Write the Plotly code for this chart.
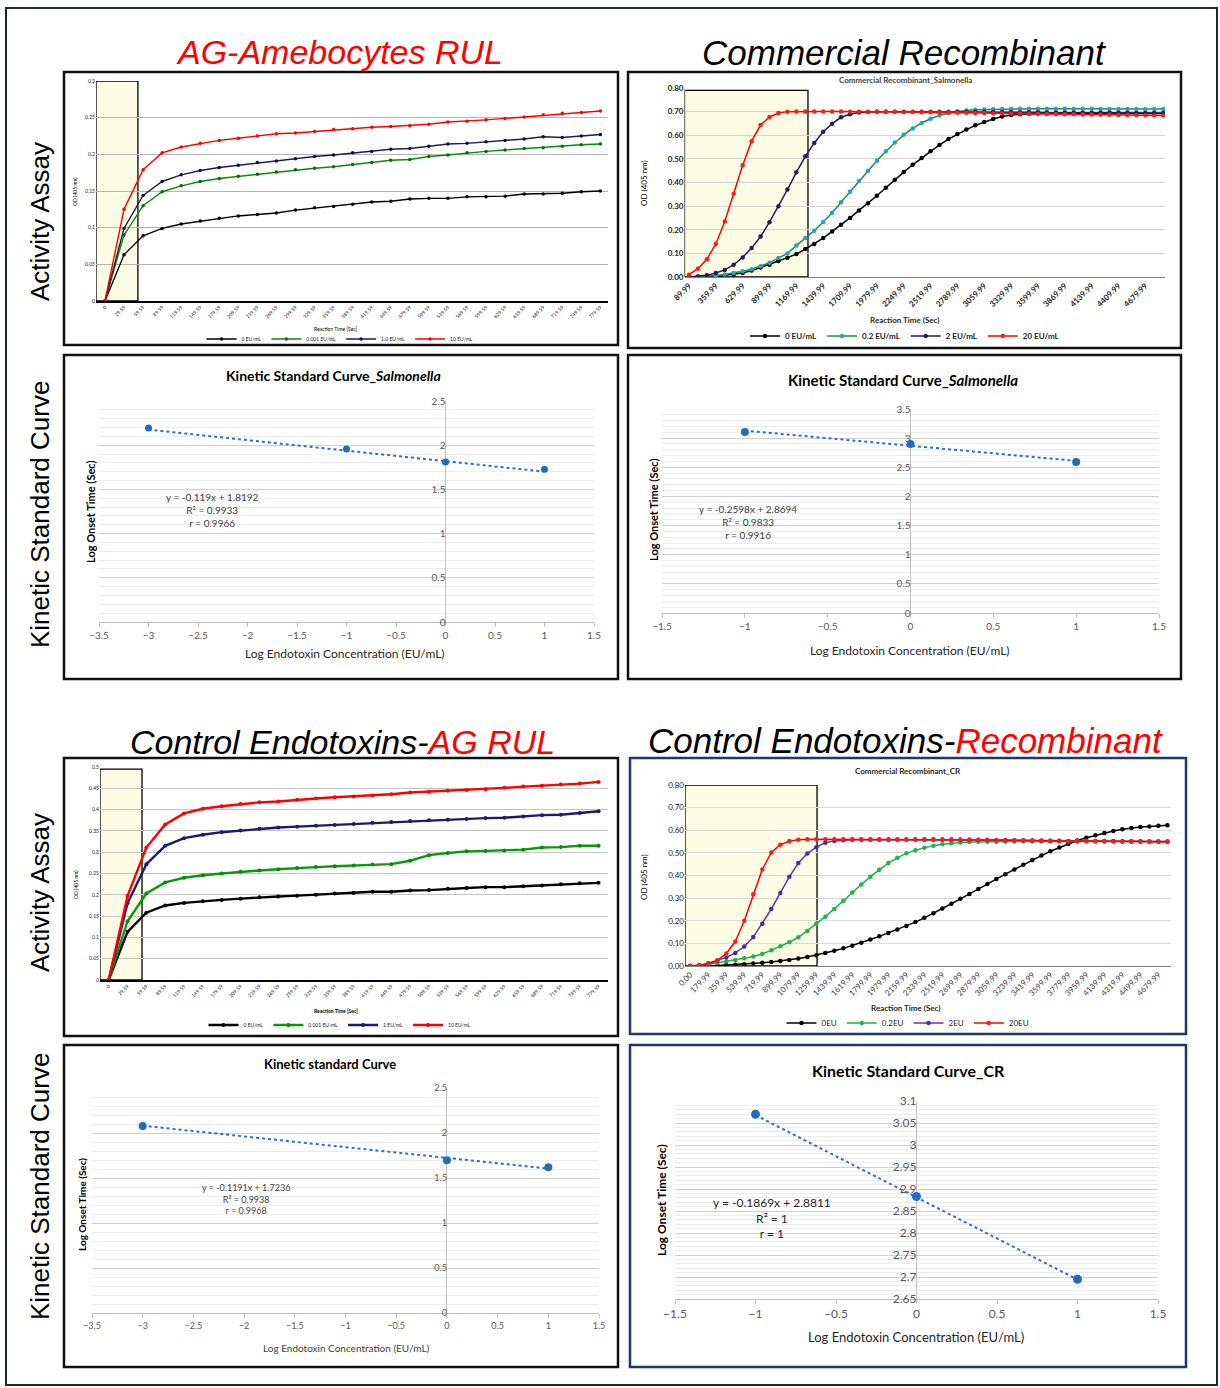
import plotly.graph_objects as go

W, H = 1220, 1388

# ---------------- DATA ----------------
# Top-left: AG-Amebocytes RUL activity assay
TL_TIMES = ["0", "29.59", "59.59", "89.59", "119.59", "149.59", "179.59", "209.59", "239.59",
            "269.59", "299.59", "329.59", "359.59", "389.59", "419.59", "449.59", "479.59",
            "509.59", "539.59", "569.59", "599.59", "629.59", "659.59", "689.59", "719.59",
            "749.59", "779.59"]
TL_NAMES = ["0 EU/mL", "0.001 EU/mL", "1.0 EU/mL", "10 EU/mL"]
TL_BLACK = [0, 0.063, 0.089, 0.099, 0.105, 0.109, 0.113, 0.116, 0.118, 0.120, 0.124, 0.127, 0.129,
            0.132, 0.135, 0.136, 0.139, 0.140, 0.140, 0.142, 0.142, 0.143, 0.146, 0.146, 0.147,
            0.149, 0.150]
TL_GREEN = [0, 0.090, 0.130, 0.149, 0.157, 0.163, 0.167, 0.170, 0.173, 0.176, 0.179, 0.181, 0.183,
            0.186, 0.189, 0.192, 0.193, 0.197, 0.199, 0.202, 0.204, 0.206, 0.208, 0.209, 0.211,
            0.213, 0.214]
TL_NAVY = [0, 0.099, 0.144, 0.163, 0.172, 0.178, 0.182, 0.185, 0.189, 0.191, 0.194, 0.197, 0.199,
           0.202, 0.204, 0.207, 0.208, 0.211, 0.214, 0.215, 0.217, 0.219, 0.221, 0.224, 0.223,
           0.225, 0.227]
TL_RED = [0, 0.125, 0.179, 0.202, 0.210, 0.215, 0.219, 0.222, 0.225, 0.228, 0.229, 0.231, 0.234,
          0.235, 0.237, 0.238, 0.239, 0.241, 0.244, 0.245, 0.247, 0.249, 0.251, 0.254, 0.256,
          0.257, 0.259]

# Top-right: Commercial Recombinant_Salmonella activity assay
TR_TIMES = ["89.99", "179.99", "269.99", "359.99", "449.99", "539.99", "629.99", "719.99", "809.99",
            "899.99", "989.99", "1079.99", "1169.99", "1259.99", "1349.99", "1439.99", "1529.99",
            "1619.99", "1709.99", "1799.99", "1889.99", "1979.99", "2069.99", "2159.99", "2249.99",
            "2339.99", "2429.99", "2519.99", "2609.99", "2699.99", "2789.99", "2879.99", "2969.99",
            "3059.99", "3149.99", "3239.99", "3329.99", "3419.99", "3509.99", "3599.99", "3689.99",
            "3779.99", "3869.99", "3959.99", "4049.99", "4139.99", "4229.99", "4319.99", "4409.99",
            "4499.99", "4589.99", "4679.99", "4769.99", "4859.99"]
TR_NAMES = ["0 EU/mL", "0.2 EU/mL", "2 EU/mL", "20 EU/mL"]
TR_0EU = [0, 0, 0.001, 0.003, 0.007, 0.011, 0.017, 0.027, 0.040, 0.052, 0.068, 0.082, 0.097,
          0.118, 0.140, 0.165, 0.193, 0.221, 0.250, 0.282, 0.312, 0.344, 0.378, 0.412, 0.444,
          0.475, 0.504, 0.532, 0.559, 0.584, 0.605, 0.624, 0.642, 0.656, 0.669, 0.679, 0.686,
          0.689, 0.691, 0.692, 0.692, 0.692, 0.693, 0.693, 0.693, 0.693, 0.693, 0.693, 0.692,
          0.692, 0.692, 0.692, 0.692, 0.692]
TR_02EU = [0, 0.001, 0.003, 0.006, 0.011, 0.017, 0.024, 0.033, 0.045, 0.060, 0.080, 0.100, 0.133,
           0.165, 0.196, 0.233, 0.272, 0.316, 0.361, 0.406, 0.449, 0.492, 0.532, 0.569, 0.602,
           0.629, 0.652, 0.670, 0.684, 0.694, 0.701, 0.705, 0.708, 0.709, 0.710, 0.711, 0.711,
           0.712, 0.712, 0.712, 0.712, 0.712, 0.712, 0.712, 0.712, 0.712, 0.711, 0.711, 0.711,
           0.711, 0.711, 0.711, 0.711, 0.711]
TR_2EU = [0, 0.002, 0.007, 0.017, 0.030, 0.052, 0.083, 0.123, 0.171, 0.232, 0.300, 0.370, 0.443,
          0.511, 0.567, 0.615, 0.649, 0.676, 0.689, 0.696, 0.698, 0.700, 0.700, 0.700, 0.700,
          0.700, 0.700, 0.700, 0.700, 0.700, 0.700, 0.699, 0.699, 0.699, 0.698, 0.698, 0.698,
          0.697, 0.697, 0.697, 0.696, 0.696, 0.696, 0.696, 0.695, 0.695, 0.695, 0.695, 0.695,
          0.695, 0.694, 0.694, 0.694, 0.694]
TR_20EU = [0.010, 0.035, 0.075, 0.140, 0.235, 0.352, 0.473, 0.575, 0.643, 0.677, 0.694, 0.700,
           0.701, 0.701, 0.701, 0.701, 0.701, 0.701, 0.700, 0.700, 0.700, 0.700, 0.699, 0.699,
           0.698, 0.698, 0.697, 0.697, 0.696, 0.696, 0.695, 0.695, 0.694, 0.694, 0.693, 0.693,
           0.692, 0.692, 0.691, 0.691, 0.690, 0.690, 0.689, 0.689, 0.688, 0.688, 0.687, 0.687,
           0.686, 0.686, 0.685, 0.685, 0.684, 0.684]

# Bottom-left: Control Endotoxins - AG RUL activity assay
BL_TIMES = ["0", "29.59", "59.59", "89.59", "119.59", "149.59", "179.59", "209.59", "239.59",
            "269.59", "299.59", "329.59", "359.59", "389.59", "419.59", "449.59", "479.59",
            "509.59", "539.59", "569.59", "599.59", "629.59", "659.59", "689.59", "719.59",
            "749.59", "779.59"]
BL_NAMES = ["0 EU/mL", "0.001 EU/mL", "1 EU/mL", "10 EU/mL"]
BL_BLACK = [0, 0.113, 0.158, 0.175, 0.181, 0.185, 0.188, 0.191, 0.194, 0.196, 0.198, 0.200, 0.203,
            0.204, 0.207, 0.207, 0.210, 0.211, 0.214, 0.216, 0.218, 0.218, 0.220, 0.222, 0.225,
            0.227, 0.228]
BL_GREEN = [0, 0.138, 0.203, 0.229, 0.240, 0.246, 0.250, 0.254, 0.257, 0.260, 0.263, 0.265, 0.267,
            0.269, 0.271, 0.272, 0.280, 0.293, 0.298, 0.302, 0.303, 0.304, 0.306, 0.311, 0.312,
            0.315, 0.315]
BL_NAVY = [0, 0.180, 0.272, 0.315, 0.333, 0.341, 0.347, 0.351, 0.355, 0.358, 0.360, 0.362, 0.364,
           0.366, 0.369, 0.371, 0.373, 0.375, 0.376, 0.378, 0.380, 0.381, 0.384, 0.387, 0.388,
           0.392, 0.396]
BL_RED = [0, 0.197, 0.311, 0.365, 0.391, 0.402, 0.408, 0.413, 0.417, 0.419, 0.423, 0.426, 0.429,
          0.431, 0.433, 0.436, 0.440, 0.442, 0.444, 0.446, 0.448, 0.451, 0.454, 0.456, 0.459,
          0.461, 0.465]

# Bottom-right: Commercial Recombinant_CR activity assay
BR_TIMES = ["0.00", "89.99", "179.99", "269.99", "359.99", "449.99", "539.99", "629.99", "719.99",
            "809.99", "899.99", "989.99", "1079.99", "1169.99", "1259.99", "1349.99", "1439.99",
            "1529.99", "1619.99", "1709.99", "1799.99", "1889.99", "1979.99", "2069.99", "2159.99",
            "2249.99", "2339.99", "2429.99", "2519.99", "2609.99", "2699.99", "2789.99", "2879.99",
            "2969.99", "3059.99", "3149.99", "3239.99", "3329.99", "3419.99", "3509.99", "3599.99",
            "3689.99", "3779.99", "3869.99", "3959.99", "4049.99", "4139.99", "4229.99", "4319.99",
            "4409.99", "4499.99", "4589.99", "4679.99", "4769.99"]
BR_NAMES = ["0EU", "0.2EU", "2EU", "20EU"]
BR_0EU = [0, 0, 0.001, 0.002, 0.004, 0.006, 0.008, 0.011, 0.014, 0.018, 0.022, 0.027, 0.033,
          0.040, 0.048, 0.057, 0.067, 0.078, 0.090, 0.103, 0.117, 0.131, 0.146, 0.161, 0.177,
          0.194, 0.213, 0.233, 0.254, 0.275, 0.297, 0.318, 0.340, 0.362, 0.384, 0.406, 0.427,
          0.448, 0.468, 0.488, 0.507, 0.524, 0.540, 0.555, 0.567, 0.578, 0.588, 0.597, 0.604,
          0.610, 0.614, 0.617, 0.620, 0.622]
BR_02EU = [0, 0.003, 0.008, 0.014, 0.020, 0.027, 0.034, 0.042, 0.053, 0.070, 0.087, 0.105, 0.127,
           0.155, 0.187, 0.218, 0.252, 0.288, 0.325, 0.360, 0.395, 0.425, 0.455, 0.478, 0.498,
           0.512, 0.523, 0.532, 0.538, 0.543, 0.546, 0.548, 0.549, 0.549, 0.549, 0.549, 0.550,
           0.550, 0.550, 0.550, 0.550, 0.550, 0.550, 0.550, 0.550, 0.550, 0.550, 0.550, 0.550,
           0.550, 0.550, 0.550, 0.550, 0.550]
BR_2EU = [0, 0.003, 0.012, 0.024, 0.038, 0.058, 0.086, 0.128, 0.187, 0.252, 0.323, 0.394, 0.455,
          0.497, 0.525, 0.545, 0.553, 0.556, 0.558, 0.558, 0.558, 0.558, 0.558, 0.558, 0.558,
          0.558, 0.558, 0.558, 0.558, 0.557, 0.557, 0.557, 0.557, 0.556, 0.556, 0.556, 0.555,
          0.555, 0.555, 0.554, 0.554, 0.554, 0.553, 0.553, 0.553, 0.552, 0.552, 0.552, 0.551,
          0.551, 0.551, 0.550, 0.550, 0.550]
BR_20EU = [0, 0.002, 0.009, 0.024, 0.055, 0.108, 0.200, 0.317, 0.427, 0.502, 0.536, 0.552, 0.558,
           0.560, 0.560, 0.560, 0.560, 0.560, 0.560, 0.560, 0.560, 0.560, 0.560, 0.560, 0.560,
           0.560, 0.560, 0.560, 0.560, 0.560, 0.559, 0.559, 0.558, 0.558, 0.557, 0.557, 0.556,
           0.556, 0.555, 0.555, 0.554, 0.554, 0.553, 0.553, 0.552, 0.552, 0.551, 0.551, 0.550,
           0.550, 0.549, 0.549, 0.548, 0.548]

# Kinetic standard curves: log concentration vs log onset time, with displayed fits
SC1_X = [-3, -1, 0, 1]
SC1_Y = [2.195, 1.957, 1.810, 1.727]
SC1_FIT = (-0.119, 1.8192)
SC1_EQ = ["y = -0.119x + 1.8192", "R² = 0.9933", "r = 0.9966"]

SC2_X = [-1, 0, 1]
SC2_Y = [3.105, 2.898, 2.589]
SC2_FIT = (-0.2598, 2.8694)
SC2_EQ = ["y = -0.2598x + 2.8694", "R² = 0.9833", "r = 0.9916"]

SC3_X = [-3, 0, 1]
SC3_Y = [2.078, 1.696, 1.619]
SC3_FIT = (-0.1191, 1.7236)
SC3_EQ = ["y = -0.1191x + 1.7236", "R² = 0.9938", "r = 0.9968"]

SC4_X = [-1, 0, 1]
SC4_Y = [3.070, 2.883, 2.695]
SC4_FIT = (-0.1869, 2.8811)
SC4_EQ = ["y = -0.1869x + 2.8811", "R² = 1", "r = 1"]

# ---------------- HELPERS ----------------
def dx(l, r):
    return [l / W, r / W]

def dy(t, b):
    return [1 - b / H, 1 - t / H]

def PX(x):
    return x / W

def PY(y):
    return 1 - y / H

FONT = "Lato, 'Open Sans', sans-serif"
BIG = "'Liberation Sans', Arial, sans-serif"

fig = go.Figure()

def add_series(xs, ys, name, line_color, marker_color, xa, ya, legend, lw, ms):
    fig.add_trace(go.Scatter(
        x=xs, y=ys, name=name, mode="lines+markers",
        line=dict(color=line_color, width=lw),
        marker=dict(color=marker_color, size=ms, symbol="circle"),
        xaxis=xa, yaxis=ya, legend=legend, showlegend=True, hoverinfo="skip"))

# Top-left
for ys, nm, lc, mc in zip([TL_BLACK, TL_GREEN, TL_NAVY, TL_RED], TL_NAMES,
                          ["#000000", "#0a8a0a", "#231a4d", "#ff0000"],
                          ["#000000", "#0a6a0a", "#111133", "#ff0000"]):
    add_series(TL_TIMES, ys, nm, lc, mc, "x", "y", "legend", 1.4, 3.5)

# Top-right
for ys, nm, lc, mc in zip([TR_0EU, TR_02EU, TR_2EU, TR_20EU], TR_NAMES,
                          ["#000000", "#1f8f3a", "#2a1a4a", "#ff0000"],
                          ["#000000", "#2a9fc8", "#1e1e5a", "#ff1a1a"]):
    add_series(TR_TIMES, ys, nm, lc, mc, "x2", "y2", "legend2", 1.5, 4.5)

# Bottom-left
for ys, nm, lc, mc in zip([BL_BLACK, BL_GREEN, BL_NAVY, BL_RED], BL_NAMES,
                          ["#000000", "#0a9a0a", "#1a1a6e", "#ff0000"],
                          ["#000000", "#0a8a0a", "#1a1a6e", "#ff0000"]):
    add_series(BL_TIMES, ys, nm, lc, mc, "x5", "y5", "legend3", 2.4, 4)

# Bottom-right
for ys, nm, lc, mc in zip([BR_0EU, BR_02EU, BR_2EU, BR_20EU], BR_NAMES,
                          ["#000000", "#22b14c", "#7030a0", "#ff0000"],
                          ["#000000", "#22b14c", "#3333aa", "#ff1a1a"]):
    add_series(BR_TIMES, ys, nm, lc, mc, "x6", "y6", "legend4", 1.5, 4.5)

# Standard curves
def add_sc(xs, ys, fit, xa, ya, ms):
    m, b = fit
    x0, x1 = min(xs), max(xs)
    fig.add_trace(go.Scatter(x=[x0, x1], y=[m * x0 + b, m * x1 + b], mode="lines",
                             line=dict(color="#2e6fbd", width=2, dash="dot"),
                             xaxis=xa, yaxis=ya, showlegend=False, hoverinfo="skip"))
    fig.add_trace(go.Scatter(x=xs, y=ys, mode="markers",
                             marker=dict(color="#1f6ebd", size=ms),
                             xaxis=xa, yaxis=ya, showlegend=False, hoverinfo="skip"))

add_sc(SC1_X, SC1_Y, SC1_FIT, "x3", "y3", 7)
add_sc(SC2_X, SC2_Y, SC2_FIT, "x4", "y4", 8)
add_sc(SC3_X, SC3_Y, SC3_FIT, "x7", "y7", 8)
add_sc(SC4_X, SC4_Y, SC4_FIT, "x8", "y8", 9)

# ---------------- AXES ----------------
def act_x(domain, anchor, rng, tickvals, size, color, lcolor, lwidth, bold):
    d = dict(domain=domain, anchor=anchor, type="category", range=rng, tickangle=-45,
             tickfont=dict(size=size, color=color, family=FONT, weight="bold" if bold else "normal"),
             showline=True, linecolor=lcolor, linewidth=lwidth, showgrid=False,
             zeroline=False, ticks="")
    if tickvals is not None:
        d["tickvals"] = tickvals
    return d

def act_y(domain, anchor, rng, dtick, size, gridcolor, fmt, bold):
    d = dict(domain=domain, anchor=anchor, range=rng, dtick=dtick,
             tickfont=dict(size=size, color="#222222", family=FONT, weight="bold" if bold else "normal"),
             showgrid=True, gridcolor=gridcolor, gridwidth=1, zeroline=False, showline=False,
             ticks="")
    if fmt:
        d["tickformat"] = fmt
    return d

def sc_x(domain, anchor, rng, size):
    return dict(domain=domain, anchor=anchor, range=rng, dtick=0.5, showgrid=False,
                zeroline=True, zerolinecolor="#bfbfbf", zerolinewidth=1,
                showline=True, linecolor="#bfbfbf", linewidth=1, ticks="outside",
                ticklen=4, tickcolor="#bfbfbf",
                tickfont=dict(size=size, color="#595959", family=FONT))

def sc_y(domain, xdom, xrng, rng, dtick, minor, size):
    pos = xdom[0] + (0 - xrng[0]) / (xrng[1] - xrng[0]) * (xdom[1] - xdom[0])
    return dict(domain=domain, anchor="free", position=pos, range=rng, dtick=dtick,
                showgrid=True, gridcolor="#d0d0d0", gridwidth=1,
                minor=dict(dtick=minor, showgrid=True, gridcolor="#ececec", gridwidth=1),
                zeroline=False, showline=False, ticks="",
                tickfont=dict(size=size, color="#595959", family=FONT))

sc1_xd = dx(99, 594)
sc2_xd = dx(662, 1159)
sc3_xd = dx(92, 599)
sc4_xd = dx(675, 1158)

fig.update_layout(
    xaxis=act_x(dx(96, 608), "y", [-0.47, 26.4], None, 5, "#222222", "#000000", 1.5, False),
    yaxis=act_y(dy(81, 301), "x", [0, 0.3], 0.05, 5, "#b5b5b5", None, False),
    xaxis2=act_x(dx(684.5, 1165), "y2", [-0.5, 53.2], TR_TIMES[::3], 8, "#262626", "#808080", 1, True),
    yaxis2=act_y(dy(88, 277), "x2", [0, 0.8], 0.1, 8, "#d4d4d4", ".2f", True),
    xaxis5=act_x(dx(100, 608), "y5", [-0.46, 26.5], None, 5, "#222222", "#000000", 1.5, False),
    yaxis5=act_y(dy(767, 980), "x5", [0, 0.5], 0.05, 5, "#c4c4c4", None, False),
    xaxis6=act_x(dx(685, 1171), "y6", [-0.59, 53.4], BR_TIMES[::2], 8, "#404040", "#808080", 1, False),
    yaxis6=act_y(dy(785, 966), "x6", [0, 0.8], 0.1, 8, "#d9d9d9", ".2f", False),
    xaxis3=sc_x(sc1_xd, "y3", [-3.5, 1.5], 10),
    yaxis3=sc_y(dy(401, 622), sc1_xd, [-3.5, 1.5], [0, 2.5], 0.5, 0.1, 10),
    xaxis4=sc_x(sc2_xd, "y4", [-1.5, 1.5], 10),
    yaxis4=sc_y(dy(409, 613), sc2_xd, [-1.5, 1.5], [0, 3.5], 0.5, 0.1, 10),
    xaxis7=sc_x(sc3_xd, "y7", [-3.5, 1.5], 9),
    yaxis7=sc_y(dy(1088, 1313), sc3_xd, [-3.5, 1.5], [0, 2.5], 0.5, 0.1, 9),
    xaxis8=sc_x(sc4_xd, "y8", [-1.5, 1.5], 12),
    yaxis8=sc_y(dy(1101, 1299), sc4_xd, [-1.5, 1.5], [2.65, 3.1], 0.05, 0.01, 12),
)

# ---------------- LEGENDS ----------------
def leg(x, y, size, bold):
    return dict(orientation="h", x=PX(x), y=PY(y), xanchor="center", yanchor="middle",
                font=dict(size=size, family=FONT, color="#222222", weight="bold" if bold else "normal"),
                itemwidth=30, bgcolor="rgba(0,0,0,0)", tracegroupgap=0)

fig.update_layout(legend=leg(340, 339, 5, False), legend2=leg(905, 336, 8, True),
                  legend3=leg(340, 1025, 5, False), legend4=leg(908, 1023, 8, False))

# ---------------- SHAPES ----------------
shapes = []
# outer border
shapes.append(dict(type="rect", xref="paper", yref="paper", x0=PX(6), x1=PX(1217), y0=PY(1385), y1=PY(8),
                   line=dict(color="#1c2a36", width=2), fillcolor="rgba(0,0,0,0)", layer="above"))
# chart frames
for (l, t, r, b, c) in [(64, 72, 618, 345, "#111111"), (628, 72, 1181, 348, "#111111"),
                        (64, 355, 618, 679, "#111111"), (628, 355, 1181, 679, "#111111"),
                        (64, 758, 618, 1036, "#111111"), (630, 758, 1186, 1034, "#1f3864"),
                        (64, 1045, 618, 1367, "#111111"), (630, 1045, 1186, 1367, "#1f3864")]:
    shapes.append(dict(type="rect", xref="paper", yref="paper", x0=PX(l), x1=PX(r), y0=PY(b), y1=PY(t),
                       line=dict(color=c, width=2.5), fillcolor="rgba(0,0,0,0)", layer="above"))
# highlighted onset windows
for (xr, yr, x0, x1, y1) in [("x", "y", -0.47, 1.73, 0.3), ("x2", "y2", -0.5, 13.3, 0.79),
                             ("x5", "y5", -0.46, 1.77, 0.495), ("x6", "y6", -0.59, 14.08, 0.8)]:
    shapes.append(dict(type="rect", xref=xr, yref=yr, x0=x0, x1=x1, y0=0, y1=y1,
                       line=dict(color="#000000", width=1.3), fillcolor="#fdfde6", layer="below"))
fig.update_layout(shapes=shapes)

# ---------------- ANNOTATIONS ----------------
anns = []

def A(text, x, y, size, color="#000000", angle=0, family=FONT, xanchor="center", align="center"):
    anns.append(dict(text=text, x=PX(x), y=PY(y), xref="paper", yref="paper", showarrow=False,
                     font=dict(size=size, color=color, family=family), textangle=angle,
                     xanchor=xanchor, yanchor="middle", align=align))

# big section titles
A("<i>AG-Amebocytes RUL</i>", 339, 52, 34, "#ff0000", family=BIG)
A("<i>Commercial Recombinant</i>", 904, 53, 35, "#000000", family=BIG)
A("<i>Control Endotoxins-<span style='color:#ff0000'>AG RUL</span></i>", 342, 742, 34, family=BIG)
A("<i>Control Endotoxins-<span style='color:#ff0000'>Recombinant</span></i>", 905, 740, 35, family=BIG)
# side labels
A("Activity Assay", 40, 222, 26, angle=-90, family=BIG)
A("Kinetic Standard Curve", 40, 515, 26, angle=-90, family=BIG)
A("Activity Assay", 40, 893, 26, angle=-90, family=BIG)
A("Kinetic Standard Curve", 40, 1187, 26, angle=-90, family=BIG)

# activity chart titles / axis titles
A("<b>Commercial Recombinant_Salmonella</b>", 905, 80, 8, "#404040")
A("<b>Commercial Recombinant_CR</b>", 908, 771, 8, "#262626")
A("OD (405 nm)", 75, 192, 5, angle=-90)
A("Reaction Time [Sec]", 336, 329, 5)
A("OD (405 nm)", 644, 183, 8, angle=-90)
A("<b>Reaction Time (Sec)</b>", 905, 320, 8, "#262626")
A("OD (405 nm)", 76, 885, 5, angle=-90)
A("<b>Reaction Time [Sec]</b>", 336, 1011, 5)
A("OD (405 nm)", 644, 877, 8, angle=-90)
A("<b>Reaction Time (Sec)</b>", 906, 1008, 8, "#262626")

# standard curve titles / axis titles / equations
A("<b>Kinetic Standard Curve_<i>Salmonella</i></b>", 333, 376, 14)
A("<b>Log Onset Time (Sec)</b>", 90, 512, 11, angle=-90)
A("Log Endotoxin Concentration (EU/mL)", 345, 653, 12, "#262626")
A("<br>".join(SC1_EQ), 212, 510, 10, "#404040")

A("<b>Kinetic Standard Curve_<i>Salmonella</i></b>", 903, 380, 15)
A("<b>Log Onset Time (Sec)</b>", 653, 510, 11, angle=-90)
A("Log Endotoxin Concentration (EU/mL)", 910, 650, 12, "#262626")
A("<br>".join(SC2_EQ), 748, 522, 10, "#404040")

A("<b>Kinetic standard Curve</b>", 330, 1064, 13)
A("<b>Log Onset Time (Sec)</b>", 82, 1205, 10, angle=-90)
A("Log Endotoxin Concentration (EU/mL)", 346, 1348, 10, "#404040")
A("<br>".join(SC3_EQ), 246, 1199, 9, "#404040")

A("<b>Kinetic Standard Curve_CR</b>", 908, 1070, 16)
A("<b>Log Onset Time (Sec)</b>", 661, 1200, 12, angle=-90)
A("Log Endotoxin Concentration (EU/mL)", 916, 1337, 13, "#262626")
A("<br>".join(SC4_EQ), 772, 1218, 12, "#262626")

fig.update_layout(annotations=anns)

fig.update_layout(width=W, height=H, margin=dict(l=0, r=0, t=0, b=0),
                  template="none", paper_bgcolor="white", plot_bgcolor="white",
                  font=dict(family=FONT, color="#222222"), hovermode=False)

fig.write_html("out.html", config={"displayModeBar": False, "staticPlot": True},
               post_script="document.body.style.margin='0px';document.body.style.padding='0px';")
